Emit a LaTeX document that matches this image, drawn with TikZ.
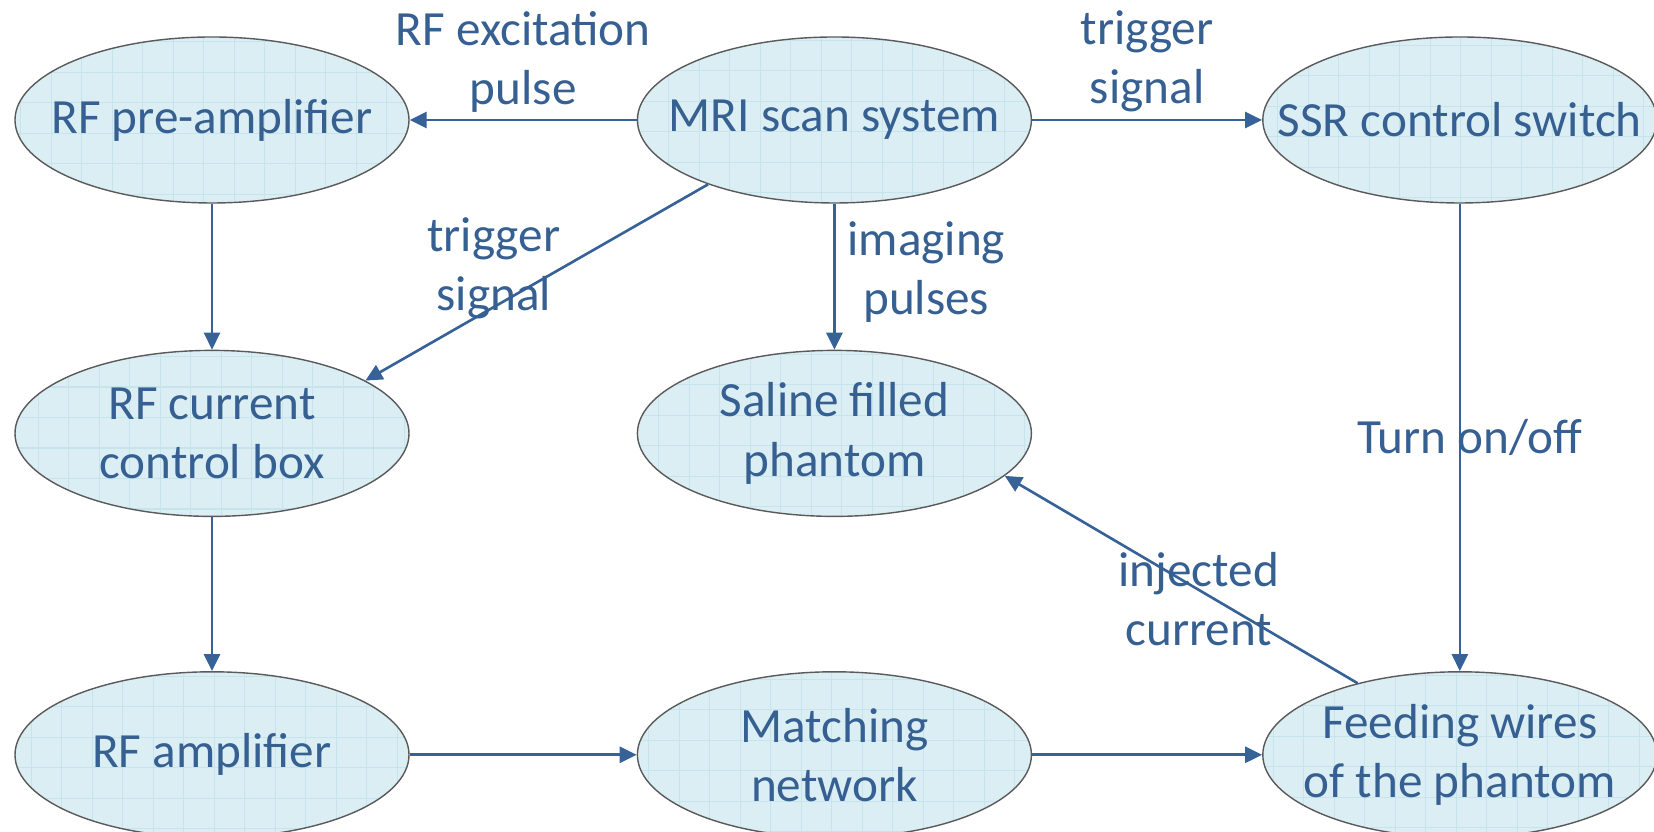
\documentclass[tikz,border=0pt]{standalone}
\usepackage{fontspec}
\setmainfont{Carlito}
\usetikzlibrary{positioning, arrows.meta, calc, shapes}
\definecolor{txtblue}{RGB}{54,96,146}
\definecolor{lineblue}{RGB}{54,98,152}
\definecolor{bubblefill}{RGB}{219,238,243}
\definecolor{gridcyan}{RGB}{197,228,235}
\definecolor{rimgray}{RGB}{90,90,90}
\newcommand{\diagfont}{\fontsize{14pt}{16.8pt}\selectfont}

\begin{document}
\begin{tikzpicture}[
    font=\diagfont,
    bubble/.style={ellipse, draw=rimgray, line width=0.4pt, fill=bubblefill, text=txtblue,
        minimum width=3.94cm, minimum height=1.66cm, inner xsep=-1.2cm, inner ysep=0pt, align=center,
        path picture={\draw[gridcyan, line width=0.3pt] (path picture bounding box.south west) grid[step=0.305cm] (path picture bounding box.north east);}},
    arrow/.style={-{Triangle[length=1.7mm, width=1.6mm]}, line width=0.75pt, lineblue},
    lbl/.style={text=txtblue, align=center}
]
\useasboundingbox (0,0) rectangle (16.54,8.32);

% === TOP ROW ===
\node[bubble] (preamp) at (2.12,7.12) {RF pre-amplifier};
\node[bubble, right=2.27cm of preamp] (mri) {MRI scan system};
\node[bubble, right=2.30cm of mri] (ssr) {SSR control switch};

% === MIDDLE ROW ===
\node[bubble, below=1.46cm of preamp] (rfbox) {RF current \\ control box};
\node[bubble, below=1.46cm of mri] (saline) {Saline filled \\ phantom};

% === BOTTOM ROW ===
\node[bubble, below=1.54cm of rfbox] (rfamp) {RF amplifier};
\node[bubble, below=1.54cm of saline] (matching) {Matching \\ network};
\node[bubble, right=2.30cm of matching] (feeding) {Feeding wires \\ of the phantom};

% MRI outputs
\draw[arrow] (mri) -- (preamp) node[midway, above=-1.5pt, lbl] {RF excitation \\ pulse};
\draw[arrow] (mri) -- (ssr) node[midway, above=-1.5pt, lbl] {trigger \\ signal};
\draw[arrow] (mri.207) -- (rfbox.19) node[pos=0.43, xshift=-0.67cm, lbl] {trigger \\ signal};
\draw[arrow] (mri) -- (saline) node[midway, right, yshift=0.05cm, lbl] {imaging \\ pulses};

% RF chain
\draw[arrow] (preamp) -- (rfbox);
\draw[arrow] (rfbox) -- (rfamp);
\draw[arrow] (rfamp) -- (matching);
\draw[arrow] (matching) -- (feeding);

% Switch and injection
\draw[arrow] (ssr) -- (feeding) node[midway, xshift=0.1cm, lbl] {Turn on/off};
\draw[arrow] (feeding.145) -- (saline.346) node[pos=0.45, yshift=-0.09cm, lbl] {injected \\ current};

\end{tikzpicture}
\end{document}
